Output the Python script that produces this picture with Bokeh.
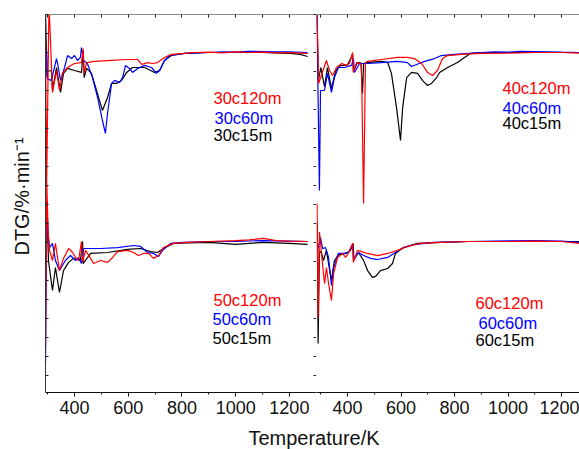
import math
from bokeh.plotting import figure
from bokeh.models import (Range1d, LinearAxis, FixedTicker, SingleIntervalTicker,
                          CustomJSTickFormatter, Label)
from bokeh.layouts import row, column
from bokeh.embed import file_html
from bokeh.resources import INLINE

FONT = "Liberation Sans"

# ---------------- data (temperature K, DTG) ----------------
# 30 c panel (top left)
t30_120 = [292, 296, 305, 311, 318, 333, 344, 355, 374, 400, 426, 432, 436, 445, 474, 538, 597, 635, 650, 672, 690, 709, 735, 761, 810, 847, 900, 950, 1000, 1050, 1100, 1150, 1200, 1240, 1268]
v30_120 = [1.5, -7.1, 2.5, 0.5, -2.1, -0.95, -2.0, -1.1, -0.79, -0.58, -0.53, 0.21, -1.1, -0.53, -0.47, -0.42, -0.37, -0.37, -0.63, -0.53, -0.58, -0.53, -0.26, -0.1, -0.05, 0.0, 0.02, -0.02, 0.03, 0.0, 0.02, -0.02, 0.0, -0.03, -0.05]
t30_60 = [294, 296, 300, 314, 333, 337, 348, 363, 374, 389, 400, 411, 422, 426, 434, 448, 467, 486, 504, 515, 523, 538, 549, 568, 579, 590, 605, 616, 635, 661, 687, 705, 717, 735, 754, 810, 900, 950, 1000, 1050, 1100, 1150, 1200, 1268]
v30_60 = [-1.3, 0.1, -1.4, -1.47, -0.32, -0.58, -1.47, -0.79, -0.16, -0.32, -0.16, -0.42, -0.26, 0.26, -0.42, -0.58, -1.32, -2.37, -3.58, -4.26, -3.2, -1.63, -1.47, -1.58, -1.32, -0.68, -0.84, -1.05, -0.84, -0.68, -0.79, -1.1, -0.95, -0.42, -0.16, -0.05, 0.0, 0.03, 0.02, 0.06, 0.05, 0.04, 0.03, 0.0]
t30_15 = [292, 297, 314, 318, 333, 348, 359, 374, 400, 426, 432, 436, 445, 463, 482, 504, 523, 538, 556, 575, 594, 616, 661, 698, 717, 735, 761, 810, 900, 1000, 1100, 1150, 1204, 1240, 1268]
v30_15 = [2.2, -1.0, -0.95, -2.0, -0.79, -2.1, -1.1, -0.84, -0.95, -1.05, 0.1, -1.32, -0.84, -1.1, -2.0, -3.05, -2.37, -1.63, -1.63, -1.47, -1.05, -0.79, -0.79, -1.05, -0.95, -0.42, -0.16, -0.05, 0.0, 0.0, 0.0, -0.02, -0.05, -0.1, -0.21]

# 40 c panel (top right)
t40_120 = [285, 292, 321, 333, 344, 359, 378, 396, 407, 419, 422, 434, 445, 452, 460, 467, 475, 527, 587, 624, 650, 677, 699, 718, 736, 755, 774, 826, 900, 1000, 1100, 1200, 1267]
v40_120 = [2.5, -1.63, -0.42, -0.95, -1.21, -0.79, -0.58, -0.68, -0.58, 0.0, -1.05, -0.53, -0.58, -0.63, -7.95, -0.53, -0.47, -0.37, -0.26, -0.26, -0.32, -0.58, -1.05, -1.21, -0.95, -0.32, -0.16, -0.1, -0.05, -0.03, 0.0, 0.0, -0.03]
t40_60 = [285, 295, 299, 314, 325, 340, 351, 366, 389, 415, 422, 426, 445, 475, 527, 587, 624, 639, 658, 688, 725, 751, 800, 900, 950, 1000, 1050, 1100, 1150, 1200, 1267]
v40_60 = [2.5, -7.26, -2.0, -2.0, -1.1, -2.1, -1.32, -0.79, -0.79, -0.68, -0.32, -1.05, -0.58, -0.58, -0.53, -0.47, -0.53, -0.74, -0.63, -0.47, -0.32, -0.16, -0.1, 0.0, 0.03, 0.02, 0.06, 0.05, 0.04, 0.02, 0.0]
t40_15 = [285, 291, 300, 314, 325, 340, 355, 370, 400, 419, 422, 437, 450, 456, 460, 471, 527, 550, 564, 583, 598, 606, 621, 639, 662, 680, 699, 714, 733, 744, 774, 811, 837, 860, 900, 1000, 1100, 1200, 1267]
v40_15 = [2.5, -1.5, -0.8, -1.8, -0.8, -1.9, -1.0, -0.7, -0.65, -0.1, -1.0, -0.53, -0.55, -2.16, -0.6, -0.53, -0.47, -0.53, -1.1, -2.89, -4.63, -2.89, -1.32, -1.05, -1.1, -1.47, -1.74, -1.63, -1.32, -1.05, -0.79, -0.53, -0.26, -0.05, 0.0, 0.0, 0.0, 0.0, 0.0]

# 50 c panel (bottom left)
t50_120 = [292, 297, 302, 307, 318, 329, 344, 359, 378, 393, 404, 415, 426, 430, 441, 460, 471, 497, 523, 542, 560, 597, 620, 638, 657, 676, 694, 713, 731, 769, 821, 900, 1000, 1050, 1104, 1150, 1200, 1268]
v50_120 = [-5.58, 3.0, 0.5, -0.47, -1.0, -0.1, -1.53, -0.89, -0.37, -0.58, -0.84, -1.0, 0.0, -1.1, -0.47, -0.89, -1.16, -1.0, -1.1, -0.84, -0.53, -0.47, -0.58, -0.74, -0.63, -0.63, -0.89, -0.74, -0.32, -0.1, -0.05, 0.0, 0.05, 0.08, 0.16, 0.05, 0.02, 0.0]
t50_60 = [292, 297, 302, 307, 318, 329, 344, 366, 385, 404, 415, 426, 434, 497, 560, 620, 646, 672, 694, 713, 728, 758, 806, 900, 1000, 1100, 1200, 1268]
v50_60 = [-6.42, 2.0, 0.3, -0.32, -0.1, -1.0, -1.53, -1.0, -0.74, -1.0, -0.84, -1.16, -0.37, -0.37, -0.32, -0.21, -0.26, -0.58, -0.63, -0.79, -0.47, -0.1, -0.05, 0.0, 0.0, 0.05, 0.02, 0.0]
t50_15 = [292, 296, 300, 303, 318, 329, 344, 359, 378, 396, 422, 430, 432, 460, 523, 597, 646, 683, 709, 731, 769, 821, 900, 1000, 1100, 1200, 1268]
v50_15 = [-1.0, 2.1, 0.5, -1.0, -2.58, -1.37, -2.68, -1.53, -1.1, -0.89, -1.0, 0.0, -1.16, -0.63, -0.58, -0.42, -0.37, -0.53, -0.58, -0.37, -0.1, -0.08, -0.05, -0.15, -0.05, -0.1, -0.15]

# 60 c panel (bottom right)
t60_120 = [286, 290, 295, 303, 305, 314, 321, 329, 340, 348, 363, 381, 393, 404, 419, 422, 437, 475, 512, 550, 587, 624, 673, 748, 850, 1000, 1100, 1200, 1267]
v60_120 = [2.0, -4.0, 0.5, -0.63, -1.0, -2.21, -1.37, -2.21, -3.1, -1.68, -0.84, -0.63, -0.84, -0.58, -0.1, -1.1, -0.47, -0.63, -0.74, -0.63, -0.47, -0.26, -0.1, -0.05, 0.0, 0.0, 0.02, 0.0, -0.1]
t60_60 = [288, 299, 307, 318, 329, 340, 348, 366, 385, 404, 419, 422, 441, 460, 486, 512, 550, 579, 609, 647, 721, 850, 1000, 1100, 1200, 1267]
v60_60 = [-0.5, 0.21, -0.37, -0.32, -0.84, -2.32, -1.37, -0.63, -0.63, -0.58, -0.16, -0.95, -0.58, -0.74, -0.89, -0.95, -0.84, -0.58, -0.32, -0.16, -0.05, 0.0, 0.03, 0.05, 0.02, -0.05]
t60_15 = [287, 290, 295, 303, 310, 321, 329, 340, 351, 366, 393, 411, 421, 424, 441, 460, 475, 493, 505, 523, 550, 568, 579, 609, 662, 748, 850, 1000, 1100, 1200, 1267]
v60_15 = [1.0, -5.37, -0.5, -0.63, -1.0, -0.47, -1.16, -2.05, -1.0, -0.7, -0.63, -0.47, -0.1, -0.95, -0.58, -1.0, -1.53, -1.89, -1.84, -1.53, -1.42, -1.16, -0.63, -0.32, -0.1, -0.05, 0.0, 0.0, 0.0, 0.0, 0.0]

names_30 = ["30c120m", "30c60m", "30c15m"]
names_40 = ["40c120m", "40c60m", "40c15m"]
names_50 = ["50c120m", "50c60m", "50c15m"]
names_60 = ["60c120m", "60c60m", "60c15m"]
colors = ["#ff0000", "#0000ff", "#000000"]

major_ticks = [400, 600, 800, 1000, 1200]
minor_ticks = [300, 500, 700, 900, 1100, 1300]
top_ticks = [300, 400, 500, 600, 700, 800, 900, 1000, 1100, 1200, 1300]

FRAME_H = 378
TOP_B = 14
BOT_B = 30
ROW_H = TOP_B + FRAME_H + BOT_B


def blank_axis(color, tick_len):
    ax = LinearAxis(formatter=CustomJSTickFormatter(code="return ''"),
                    major_label_text_font_size="0px", major_label_standoff=0,
                    major_tick_in=tick_len, major_tick_out=0,
                    minor_tick_line_color=None,
                    axis_line_color=color, major_tick_line_color="#222222")
    return ax


def make_panel(xs, xe, fw, min_left, top_series, bot_series, top_names, bot_names,
               top_lab_pos, bot_lab_pos, left_axes):
    p = figure(frame_width=fw, frame_height=FRAME_H,
               x_range=Range1d(xs, xe), y_range=Range1d(-17.9, 2.0),
               output_backend="svg", toolbar_location=None,
               x_axis_location=None, y_axis_location=None,
               min_border_left=min_left, min_border_right=0,
               min_border_top=TOP_B, min_border_bottom=BOT_B)
    p.extra_y_ranges = {"bot": Range1d(-7.95, 11.95)}
    p.outline_line_color = None
    p.xgrid.grid_line_color = None
    p.ygrid.grid_line_color = None

    bx = LinearAxis(ticker=FixedTicker(ticks=major_ticks, minor_ticks=minor_ticks),
                    major_tick_in=0, major_tick_out=4, minor_tick_in=0, minor_tick_out=2,
                    major_label_text_font=FONT, major_label_text_font_size="18px",
                    major_label_text_color="#111111", major_label_standoff=4,
                    axis_line_color="#111111", major_tick_line_color="#111111",
                    minor_tick_line_color="#111111")
    p.add_layout(bx, "below")
    tx = blank_axis("#8a8a8a", 3)
    tx.ticker = FixedTicker(ticks=top_ticks, minor_ticks=[])
    p.add_layout(tx, "above")
    for side, col in left_axes:
        ay = blank_axis(col, 3)
        ay.ticker = SingleIntervalTicker(interval=1, num_minor_ticks=0)
        p.add_layout(ay, side)

    for (t, v), c in list(zip(top_series, colors))[::-1]:
        p.line(t, v, line_color=c, line_width=1.2)
    for (t, v), c in list(zip(bot_series, colors))[::-1]:
        p.line(t, v, line_color=c, line_width=1.2, y_range_name="bot")

    for names, pos in ((top_names, top_lab_pos), (bot_names, bot_lab_pos)):
        for n, c, (lx, ly) in zip(names, colors, pos):
            p.add_layout(Label(x=lx, y=ly, x_units="screen", y_units="screen", text=n,
                               text_color=c, text_font=FONT, text_font_size="16.5px",
                               text_align="left", text_baseline="middle"))
    return p


# y-axis title strip
p0 = figure(frame_width=44, frame_height=ROW_H, x_range=Range1d(0, 1), y_range=Range1d(0, 1),
            output_backend="svg", toolbar_location=None,
            x_axis_location=None, y_axis_location=None, min_border=0)
p0.outline_line_color = None
p0.xgrid.grid_line_color = None
p0.ygrid.grid_line_color = None
p0.add_layout(Label(x=21, y=ROW_H - 182, x_units="screen", y_units="screen",
                    text="DTG/%·min⁻¹", angle=math.pi / 2, text_font=FONT,
                    text_font_size="20px", text_color="#111111",
                    text_align="center", text_baseline="middle"))

p1 = make_panel(292, 1301, 271, 1,
                [(t30_120, v30_120), (t30_60, v30_60), (t30_15, v30_15)],
                [(t50_120, v50_120), (t50_60, v50_60), (t50_15, v50_15)],
                names_30, names_50,
                [(168, 295), (169, 275), (168, 258)],
                [(168, 93), (167, 74), (167, 55)],
                [("left", "#333333"), ("right", "#8a8a8a")])

p2 = make_panel(284, 1267, 263, 0,
                [(t40_120, v40_120), (t40_60, v40_60), (t40_15, v40_15)],
                [(t60_120, v60_120), (t60_60, v60_60), (t60_15, v60_15)],
                names_40, names_60,
                [(186, 305), (186, 285), (186, 270)],
                [(159, 90), (162, 70), (159, 53)],
                [])

p3 = figure(frame_width=579, frame_height=449 - ROW_H, x_range=Range1d(0, 1), y_range=Range1d(0, 1),
            output_backend="svg", toolbar_location=None,
            x_axis_location=None, y_axis_location=None, min_border=0)
p3.outline_line_color = None
p3.xgrid.grid_line_color = None
p3.ygrid.grid_line_color = None
p3.add_layout(Label(x=313.5, y=449 - 437, x_units="screen", y_units="screen", text="Temperature/K",
                    text_font=FONT, text_font_size="20px", text_color="#111111",
                    text_align="center", text_baseline="middle"))

layout = column(row(p0, p1, p2), p3)
open("out.html", "w").write(file_html(layout, INLINE))
